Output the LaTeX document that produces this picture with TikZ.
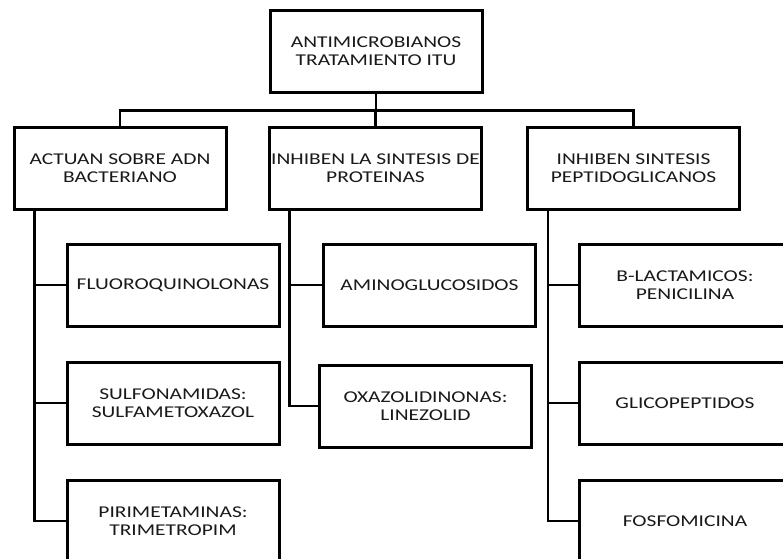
\documentclass[tikz,border=0pt]{standalone}
\usepackage{fontspec}
\setmainfont{Carlito}[FakeStretch=1.3]
\usetikzlibrary{positioning}

\begin{document}
\begin{tikzpicture}[x=1pt, y=-1pt,
    box/.style={draw=black, line width=3pt, fill=white, minimum width=212pt, minimum height=82pt,
        inner sep=2pt, align=center, text=black!90, font=\fontsize{16.5}{18}\selectfont},
    link/.style={draw=black, line width=2.5pt},
    every node/.style={node distance=33pt}
    ]
    \useasboundingbox (0,0) rectangle (783,558);
    \clip (0,0) rectangle (783,558);

    % root and the three groups
    \node[box] (root) at (376,51) {ANTIMICROBIANOS\\TRATAMIENTO ITU};
    \node[box] (adn) at (120,168.5) {ACTUAN SOBRE ADN\\BACTERIANO};
    \node[box] (prot) at (375.5,168.5) {INHIBEN LA SINTESIS DE\\PROTEINAS};
    \node[box] (pept) at (633.5,168.5) {INHIBEN SINTESIS\\PEPTIDOGLICANOS};

    % drugs of each group
    \node[box] (fluoro) at (173,285) {FLUOROQUINOLONAS};
    \node[box, below=of fluoro] (sulfa) {SULFONAMIDAS:\\SULFAMETOXAZOL};
    \node[box, below=of sulfa] (piri) {PIRIMETAMINAS:\\TRIMETROPIM};

    \node[box] (amino) at (429.5,285) {AMINOGLUCOSIDOS};
    \node[box, below=36pt of amino, xshift=-4pt] (oxa) {OXAZOLIDINONAS:\\LINEZOLID};

    \node[box] (blact) at (685,285) {B-LACTAMICOS:\\PENICILINA};
    \node[box, below=of blact] (glico) {GLICOPEPTIDOS};
    \node[box, below=of glico] (fosfo) {FOSFOMICINA};

    % root to groups
    \path (root.south) ++(0,17) coordinate (hub);
    \draw[link] (root.south) -- (hub);
    \foreach \g in {adn,prot,pept} {
        \draw[link] (\g.north) |- (hub);
    }

    % groups to drugs
    \foreach \g/\kids in {adn/{fluoro,sulfa,piri}, prot/{amino,oxa}, pept/{blact,glico,fosfo}} {
        \coordinate (trunk) at ([xshift=22pt]\g.south west);
        \foreach \k in \kids {
            \draw[link] (trunk) |- (\k.west);
        }
    }
\end{tikzpicture}
\end{document}
